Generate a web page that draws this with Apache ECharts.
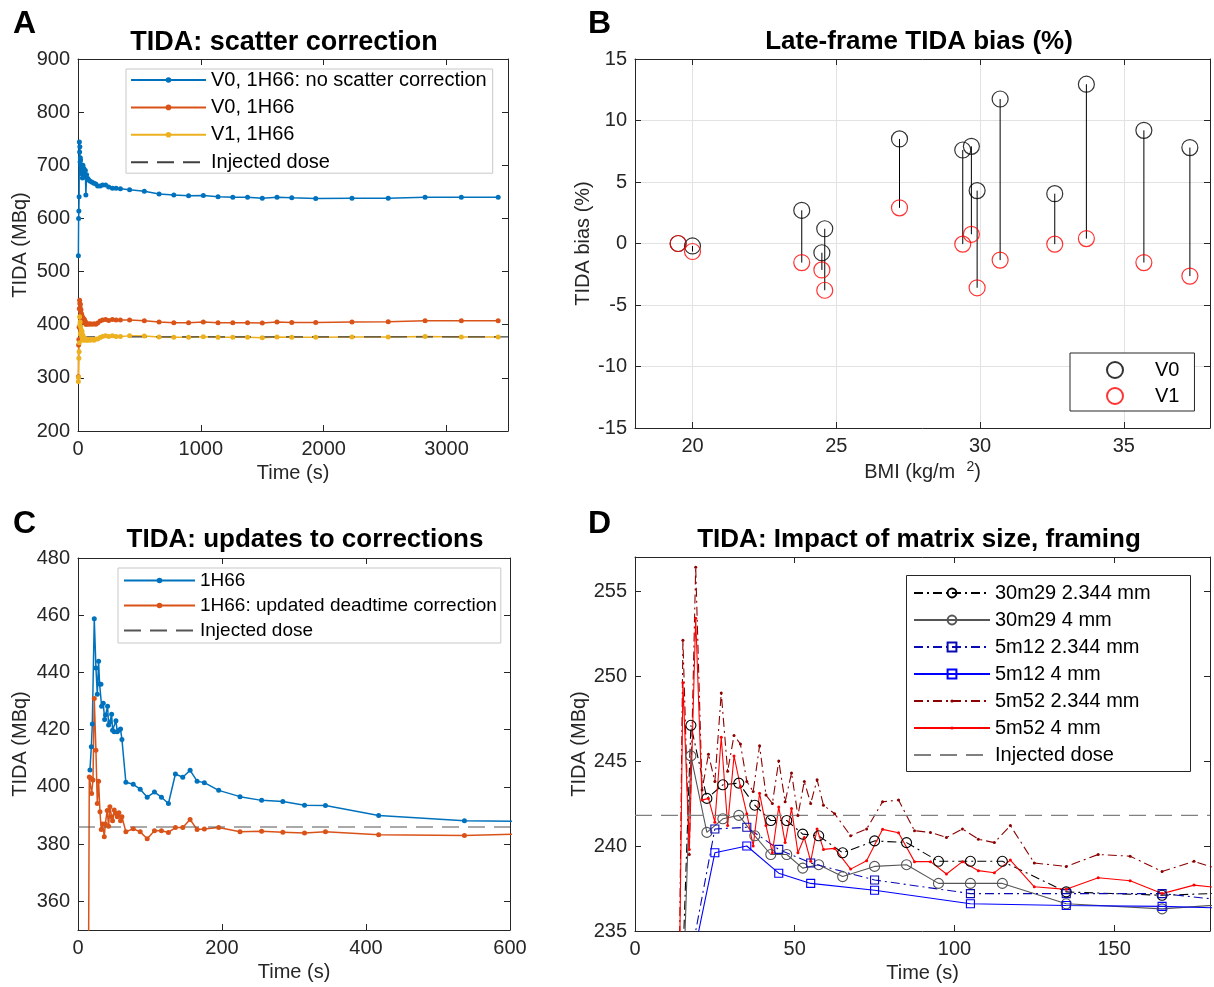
<!DOCTYPE html>
<html>
<head>
<meta charset="utf-8">
<title>TIDA</title>
<script src="https://cdn.jsdelivr.net/npm/echarts@6/dist/echarts.min.js"></script>
<style>
    html, body { margin: 0; padding: 0; background: #fff; }
    #chart { width: 1214px; height: 987px; }
</style>
</head>
<body>
<div id="chart"></div>
<script>
var FONT = "'Liberation Sans', Arial, Helvetica, sans-serif";
var INK = '#262626';

// ---- A: scatter correction ----
var aTime = [3, 5, 7, 9, 11, 13, 15, 17, 19, 21,
    24, 27, 30, 33, 36, 40, 44, 48, 52, 56,
    60, 64, 70, 80, 90, 100, 115, 130, 145, 160,
    180, 200, 225, 250, 280, 310, 345, 420, 540, 660,
    780, 900, 1020, 1140, 1260, 1380, 1500, 1620, 1740, 1935,
    2230, 2525, 2825, 3120, 3420];
var aNoScatter = [530, 600, 614, 641, 744, 725, 735, 706, 714, 710,
    700, 694, 684, 690, 676, 700, 685, 694, 680, 678,
    690, 644, 682, 675, 672, 670, 668, 666, 665, 661,
    661, 663, 663, 659, 657, 657, 656, 654, 651, 646,
    644, 642.5, 643, 641, 640, 640, 638, 640, 639, 637.5,
    638, 638, 640, 640, 640];
var aV0 = [302, 362, 372, 395, 430, 446, 440, 432, 438, 425,
    428, 418, 420, 412, 415, 408, 412, 405, 410, 404,
    406, 401, 401, 402, 401, 402, 401, 402, 401, 403,
    407, 409, 410, 408, 410, 409, 409, 408.8, 407.5, 405,
    403.8, 403.8, 405, 403.8, 403.8, 403.8, 403.1, 405, 404.4, 404.4,
    405, 405.6, 407.5, 407.5, 407.5];
var aV1 = [293, 301, 337, 349, 366, 415, 400, 405, 383, 396,
    385, 390, 378, 387, 372, 380, 371, 375, 373, 372,
    374, 371, 372, 371, 372, 371, 372, 371, 373, 373,
    376, 378, 379, 378, 379, 378, 378, 379, 378.7, 376.8,
    376.2, 376.2, 377.5, 376.2, 376.2, 376.2, 375.6, 376.8, 376.2, 376.2,
    376.8, 376.8, 378, 376.8, 376.8];
var aDose = 377;

// ---- B: late-frame bias vs BMI ----
var bBmi = [19.5, 20.0, 23.8, 24.5, 24.6, 27.2, 29.4, 29.7, 29.9, 30.7, 32.6, 33.7, 35.7, 37.3];
var bV0 = [0.0, -0.2, 2.7, -0.75, 1.2, 8.5, 7.6, 7.9, 4.3, 11.75, 4.05, 12.95, 9.2, 7.8];
var bV1 = [0.0, -0.65, -1.55, -2.15, -3.8, 2.9, -0.05, 0.75, -3.6, -1.35, -0.05, 0.4, -1.55, -2.65];

// ---- C: updates to corrections ----
var cTimeOld = [16.6, 18.5, 19.9, 22.6, 24.9, 26.8, 28.6, 30, 31.9, 32.8, 35.1, 37, 38.3, 41.1, 42.5,
    44.3, 46.7, 48, 50.3, 52.7, 54.5, 56.8, 59.1, 61, 66.5, 76.7, 86.4, 96.1, 106.2, 115.9,
    125.6, 135.3, 145.5, 155.7, 165.4, 175.5, 195.4, 225, 255, 284.5, 314.6, 343.7, 417.6, 536.7, 660];
var cOld = [405.9, 414, 422, 458.8, 441.6, 432.4, 443.9, 436, 435.9, 428.2, 429.2, 423.6, 425.1, 428.2, 421.6,
    422.7, 425.4, 419.8, 419.3, 423.1, 419.3, 419.8, 420.2, 416.6, 401.6, 400.9, 399.2, 396.4, 398.2, 396.4,
    394.2, 404.5, 403.4, 405.8, 402, 401.5, 398.8, 396.6, 395.3, 394.9, 393.6, 393.5, 390, 388.2, 387.8];
var cTimeNew = [14, 15.7, 17.6, 18.9, 20.8, 22.6, 24.9, 26.8, 28.6, 30.5, 32.3, 34.2, 36.5, 37.9, 40.6,
    42.5, 44.3, 46.7, 48, 50.3, 52.7, 54.5, 56.8, 59.1, 61, 66.5, 76.7, 86.4, 96.1, 106.2,
    115.9, 125.6, 135.3, 145.5, 155.7, 165.4, 175.5, 195.4, 225, 255, 284.5, 314.6, 343.7, 417.6, 536.7, 660];
var cNew = [300, 403.5, 403, 397.7, 402.4, 430.9, 412.8, 394.2, 402, 391.3, 385.1, 387, 382.6, 387, 391.8,
    386.3, 393.1, 389.6, 388.2, 391.9, 390.7, 389.6, 391, 388.2, 389.6, 384.3, 385.4, 384.3, 381.9, 384.7,
    384.7, 384.1, 385.8, 385.8, 388.6, 385.1, 385.3, 385.8, 384.3, 384.5, 384.2, 383.9, 384.3, 383.3, 383, 383.8];
var cDose = 386;

// ---- D: matrix size, framing ----
var d30Time = [12.5, 17.5, 22.5, 27.5, 32.5, 37.5, 42.5, 47.5, 52.5, 57.5, 65, 75, 85, 95, 105, 115, 135, 165, 195];
var d30m29Fine = [219.5, 247.1, 242.8, 243.6, 243.7, 242.4, 241.5, 241.5, 240.7, 240.6, 239.6, 240.3, 240.2, 239.1, 239.1, 239.1, 237.3, 237.1, 237.3];
var d30m29Coarse = [217, 245.3, 240.8, 241.6, 241.8, 240.6, 239.5, 239.5, 238.7, 238.9, 238.2, 238.8, 238.9, 237.8, 237.8, 237.8, 236.6, 236.3, 236.7];
var d12Time = [15, 25, 35, 45, 55, 75, 105, 135, 165, 195];
var d5m12Fine = [231, 241.0, 241.1, 239.8, 239.0, 238.0, 237.2, 237.2, 237.2, 236.6];
var d5m12Coarse = [230.5, 239.6, 240.0, 238.4, 237.8, 237.4, 236.6, 236.5, 236.45, 236.3];
var d52Time = [13, 15, 17, 19, 21, 23, 25, 27, 29, 31, 33, 35, 37, 39, 41, 43, 45, 47, 49, 51, 53, 55, 57, 59,
    62.5, 67.5, 72.5, 77.5, 82.5, 87.5, 92.5, 97.5, 102.5, 107.5, 112.5, 117.5,
    125, 135, 145, 155, 165, 175, 185];
var d5m52Fine = [218, 252.1, 239.5, 256.4, 243.3, 245.4, 243.8, 249.0, 244.4, 246.5, 246.0, 243.8, 243.2, 245.9, 243.0, 242.5,
    245.0, 242.6, 244.3, 241.8, 243.8, 242.5, 243.9, 242.4,
    241.9, 240.6, 241.0, 242.6, 242.7, 240.9, 240.8, 240.5, 241.0, 240.4, 240.2, 241.2,
    239.0, 238.8, 239.5, 239.4, 238.5, 239.1, 238.5];
var d5m52Coarse = [218, 249.6, 239.8, 253.4, 242.7, 242.8, 241.4, 246.4, 241.2, 245.3, 243.5, 241.9, 240.0, 243.1, 241.2, 239.6,
    242.3, 240.2, 242.2, 239.6, 240.5, 239.1, 241.0, 239.8,
    239.86, 238.64, 239.13, 240.98, 240.78, 239.08, 239.08, 238.35, 239.08, 238.55, 238.43, 239.17,
    237.6, 237.45, 238.13, 237.96, 237.2, 237.7, 237.5];
var dDose = 241.8;

function pairs(xs, ys) {
    return xs.map(function (x, i) { return [x, ys[i]]; });
}

// bottom/left axis with labels plus a bare top/right twin, so each panel gets a closed box
function axisPair(dim, gridIndex, o) {
    var main = {
        type: 'value', gridIndex: gridIndex,
        position: dim === 'x' ? 'bottom' : 'left',
        min: o.min, max: o.max, interval: o.interval, splitNumber: o.splitNumber,
        name: o.name, nameLocation: 'middle', nameGap: o.nameGap,
        nameTextStyle: {fontSize: 20, color: INK, fontFamily: FONT, rich: o.rich},
        axisLine: {onZero: false, lineStyle: {color: INK, width: 1}},
        axisTick: {inside: true, length: 6, lineStyle: {color: INK}},
        axisLabel: {fontSize: 20, color: INK, fontFamily: FONT, margin: 8,
            formatter: function (v) { return String(v); },
            showMinLabel: o.showMin, showMaxLabel: o.showMax},
        splitLine: {show: !!o.gridLines, lineStyle: {color: '#e2e2e2', width: 1}}
    };
    var twin = {
        type: 'value', gridIndex: gridIndex,
        position: dim === 'x' ? 'top' : 'right',
        min: o.min, max: o.max, interval: o.interval, splitNumber: o.splitNumber,
        axisLine: {onZero: false, lineStyle: {color: INK, width: 1}},
        axisTick: {inside: true, length: 6, lineStyle: {color: INK}},
        axisLabel: {show: false},
        splitLine: {show: false}
    };
    return [main, twin];
}

var xAxes = [].concat(
    axisPair('x', 0, {min: 0, max: 3500, interval: 1000, name: 'Time (s)', nameGap: 32, showMax: false}),
    axisPair('x', 1, {min: 18, max: 38, name: 'BMI (kg/m  {sup|2})', nameGap: 32, showMin: false, showMax: false,
        gridLines: true, rich: {sup: {fontSize: 14, color: INK, fontFamily: FONT, padding: [0, 0, 10, 0]}}}),
    axisPair('x', 2, {min: 0, max: 600, interval: 200, name: 'Time (s)', nameGap: 32}),
    axisPair('x', 3, {min: 0, max: 180, interval: 50, name: 'Time (s)', nameGap: 32, showMax: false})
);
var yAxes = [].concat(
    axisPair('y', 0, {min: 200, max: 900, interval: 100, name: 'TIDA (MBq)', nameGap: 48}),
    axisPair('y', 1, {min: -15, max: 15, interval: 5, name: 'TIDA bias (%)', nameGap: 42, gridLines: true}),
    axisPair('y', 2, {min: 350, max: 480, splitNumber: 6, name: 'TIDA (MBq)', nameGap: 48, showMin: false}),
    axisPair('y', 3, {min: 235, max: 257, interval: 5, name: 'TIDA (MBq)', nameGap: 45, showMax: false})
);

function line(name, axis, data, color, o) {
    o = o || {};
    return {
        name: name, type: 'line', xAxisIndex: axis * 2, yAxisIndex: axis * 2,
        data: data,
        symbol: o.symbol || 'circle', symbolSize: o.size || 5,
        showSymbol: o.symbol !== 'none',
        lineStyle: {color: color, width: o.width || 1.5, type: o.type || 'solid'},
        itemStyle: o.hollow
            ? {color: 'rgba(0,0,0,0)', borderColor: color, borderWidth: 1.1}
            : {color: o.symbol === 'none' ? 'rgba(0,0,0,0)' : color},
        emphasis: {disabled: true},
        clip: true,
        z: o.z || 2
    };
}

var DASH = [17, 9];
var DASHDOT = [9, 4, 2, 4];

var series = [
    line('V0, 1H66: no scatter correction', 0, pairs(aTime, aNoScatter), '#0072BD'),
    line('V0, 1H66', 0, pairs(aTime, aV0), '#D95319'),
    line('V1, 1H66', 0, pairs(aTime, aV1), '#EDB120'),
    line('Injected dose', 0, [[0, aDose], [3500, aDose]], '#404040', {symbol: 'none', type: DASH, width: 1.2}),

    {
        type: 'custom', xAxisIndex: 2, yAxisIndex: 2, silent: true, z: 1,
        data: bBmi.map(function (b, i) { return [b, bV0[i], bV1[i]]; }),
        encode: {x: 0, y: [1, 2]},
        renderItem: function (params, api) {
            var p0 = api.coord([api.value(0), api.value(1)]);
            var p1 = api.coord([api.value(0), api.value(2)]);
            return {type: 'line', shape: {x1: p0[0], y1: p0[1], x2: p1[0], y2: p1[1]},
                style: {stroke: '#000', lineWidth: 1}};
        }
    },
    {
        name: 'V0', type: 'scatter', xAxisIndex: 2, yAxisIndex: 2, z: 2,
        data: pairs(bBmi, bV0), symbol: 'circle', symbolSize: 16,
        itemStyle: {color: 'rgba(0,0,0,0)', borderColor: '#000', borderWidth: 1.2},
        emphasis: {disabled: true}
    },
    {
        name: 'V1', type: 'scatter', xAxisIndex: 2, yAxisIndex: 2, z: 3,
        data: pairs(bBmi, bV1), symbol: 'circle', symbolSize: 16,
        itemStyle: {color: 'rgba(0,0,0,0)', borderColor: '#ff0000', borderWidth: 1.2},
        emphasis: {disabled: true}
    },

    line('1H66', 2, pairs(cTimeOld, cOld), '#0072BD'),
    line('1H66: updated deadtime correction', 2, pairs(cTimeNew, cNew), '#D95319'),
    line('Injected dose ', 2, [[0, cDose], [600, cDose]], '#555555', {symbol: 'none', type: DASH, width: 1.2}),

    line('30m29 2.344 mm', 3, pairs(d30Time, d30m29Fine), '#000000', {type: DASHDOT, width: 1.1, size: 10, hollow: true}),
    line('30m29 4 mm', 3, pairs(d30Time, d30m29Coarse), '#555555', {width: 1.1, size: 10, hollow: true}),
    line('5m12 2.344 mm', 3, pairs(d12Time, d5m12Fine), '#0a0ab4', {type: DASHDOT, width: 1.1, size: 8, symbol: 'rect', hollow: true}),
    line('5m12 4 mm', 3, pairs(d12Time, d5m12Coarse), '#0000ff', {width: 1.1, size: 8, symbol: 'rect', hollow: true}),
    line('5m52 2.344 mm', 3, pairs(d52Time, d5m52Fine), '#8b0000', {type: DASHDOT, width: 1.1, size: 3}),
    line('5m52 4 mm', 3, pairs(d52Time, d5m52Coarse), '#ff0000', {width: 1.1, size: 3}),
    line('Injected dose  ', 3, [[0, dDose], [180, dDose]], '#808080', {symbol: 'none', type: DASH, width: 1.2})
];

var legendText = {fontSize: 20, lineHeight: 20, fontFamily: FONT, color: '#000'};

var option = {
    animation: false,
    backgroundColor: '#fff',
    title: [
        {text: 'A', left: 8, top: 3, textStyle: {fontSize: 32, fontWeight: 'bold', fontFamily: FONT, color: '#000'}},
        {text: 'B', left: 583, top: 3, textStyle: {fontSize: 32, fontWeight: 'bold', fontFamily: FONT, color: '#000'}},
        {text: 'C', left: 8, top: 503, textStyle: {fontSize: 32, fontWeight: 'bold', fontFamily: FONT, color: '#000'}},
        {text: 'D', left: 583, top: 503, textStyle: {fontSize: 32, fontWeight: 'bold', fontFamily: FONT, color: '#000'}},
        {text: 'TIDA: scatter correction', left: 279, top: 24, textAlign: 'center',
            textStyle: {fontSize: 27, fontWeight: 'bold', fontFamily: FONT, color: '#000'}},
        {text: 'Late-frame TIDA bias (%)', left: 914, top: 24, textAlign: 'center',
            textStyle: {fontSize: 26, fontWeight: 'bold', fontFamily: FONT, color: '#000'}},
        {text: 'TIDA: updates to corrections', left: 300, top: 522, textAlign: 'center',
            textStyle: {fontSize: 26, fontWeight: 'bold', fontFamily: FONT, color: '#000'}},
        {text: 'TIDA: Impact of matrix size, framing', left: 914, top: 522, textAlign: 'center',
            textStyle: {fontSize: 26, fontWeight: 'bold', fontFamily: FONT, color: '#000'}}
    ],
    grid: [
        {left: 78, top: 59, width: 430, height: 372},
        {left: 635, top: 59, width: 575, height: 369},
        {left: 78, top: 558, width: 432, height: 372},
        {left: 635, top: 557, width: 575, height: 374}
    ],
    xAxis: xAxes,
    yAxis: yAxes,
    legend: [
        {
            orient: 'vertical', left: 126, top: 69, selectedMode: false,
            data: ['V0, 1H66: no scatter correction', 'V0, 1H66', 'V1, 1H66', 'Injected dose'],
            itemWidth: 75, itemHeight: 7, itemGap: 7.4, padding: [1, 6, 1, 4],
            borderColor: '#c8c8c8', borderWidth: 1, backgroundColor: '#fff',
            textStyle: legendText
        },
        {
            orient: 'vertical', left: 1070, top: 353, selectedMode: false,
            data: ['V0', 'V1'],
            itemWidth: 70, itemHeight: 16, itemGap: 6, padding: [7, 15, 5, 36],
            borderColor: INK, borderWidth: 1, backgroundColor: '#fff',
            textStyle: legendText
        },
        {
            orient: 'vertical', left: 118, top: 568, selectedMode: false,
            data: ['1H66', '1H66: updated deadtime correction', 'Injected dose '],
            itemWidth: 71, itemHeight: 7, itemGap: 6, padding: [3, 4, 3, 5],
            borderColor: '#c8c8c8', borderWidth: 1, backgroundColor: '#fff',
            textStyle: {fontSize: 19, lineHeight: 19, fontFamily: FONT, color: '#000'}
        },
        {
            orient: 'vertical', left: 913, top: 583, selectedMode: false,
            data: ['30m29 2.344 mm', '30m29 4 mm', '5m12 2.344 mm', '5m12 4 mm'],
            itemWidth: 76, itemHeight: 11, itemGap: 7, padding: 0,
            textStyle: legendText
        },
        {
            orient: 'vertical', left: 913, top: 691, selectedMode: false,
            data: ['5m52 2.344 mm', '5m52 4 mm', 'Injected dose  '],
            itemWidth: 76, itemHeight: 4, itemGap: 7, padding: 0,
            textStyle: legendText
        }
    ],
    graphic: [
        {type: 'rect', left: 906, top: 575, z: 3, silent: true,
            shape: {width: 284, height: 196},
            style: {fill: '#fff', stroke: INK, lineWidth: 1}}
    ],
    series: series
};

var myChart = echarts.init(document.getElementById('chart'));
myChart.setOption(option);
</script>
</body>
</html>
